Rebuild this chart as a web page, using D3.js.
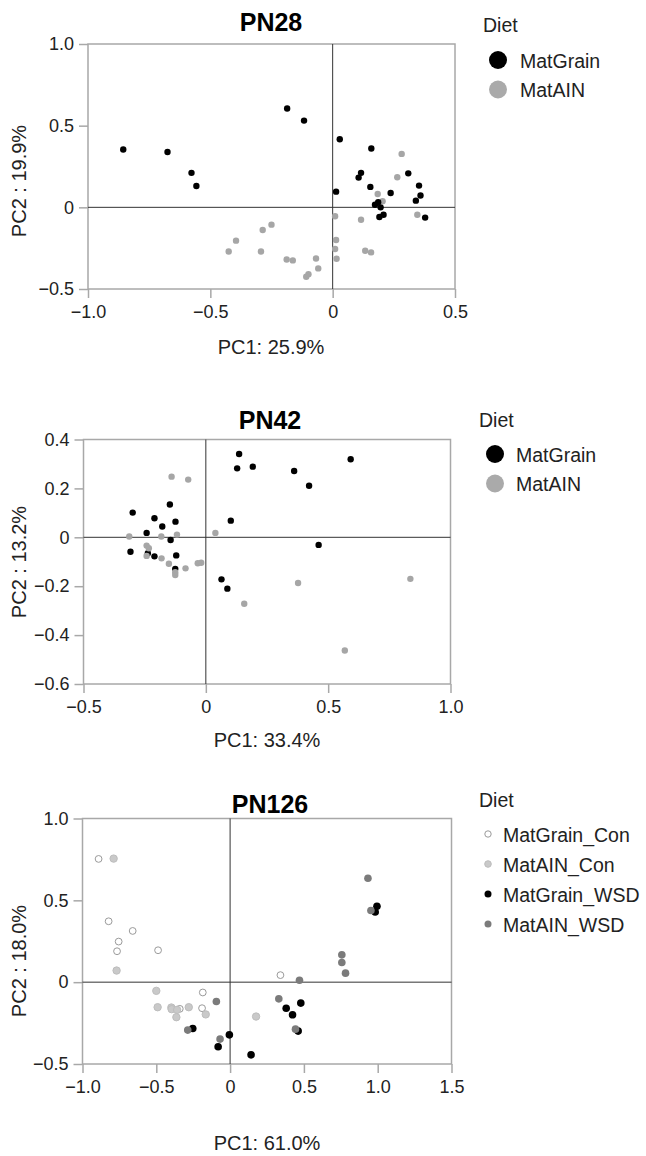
<!DOCTYPE html>
<html>
<head>
<meta charset="utf-8">
<script src="https://cdn.jsdelivr.net/npm/d3@7"></script>
<style>
  body { margin: 0; background: #fff; }
  svg { font-family: "Liberation Sans", Arial, sans-serif; }
</style>
</head>
<body>
<div id="graf"></div>
<script>
// PN28: puntos por dieta [PC1, PC2]
const pn28Grain = [[-0.856,0.354],[-0.675,0.339],[-0.577,0.211],[-0.557,0.131],[-0.186,0.605],[-0.117,0.531],
  [0.029,0.417],[0.014,0.096],[0.158,0.360],[0.116,0.211],[0.106,0.182],[0.154,0.125],[0.237,0.088],[0.309,0.208],
  [0.353,0.133],[0.359,0.072],[0.340,0.041],[0.378,-0.063],[0.173,0.016],[0.186,0.031],[0.196,0.0],[0.191,-0.059],[0.208,-0.045]]
const pn28AIN = [[0.282,0.327],[0.264,0.184],[0.184,0.082],[0.204,0.037],[0.346,-0.045],[0.010,-0.055],[0.116,-0.076],
  [-0.250,-0.106],[-0.286,-0.139],[-0.395,-0.204],[-0.425,-0.270],[-0.293,-0.270],[0.014,-0.200],[0.010,-0.255],[0.016,-0.315],
  [0.133,-0.266],[0.157,-0.276],[-0.188,-0.319],[-0.163,-0.325],[-0.068,-0.313],[-0.059,-0.374],[-0.099,-0.409],[-0.108,-0.425]]

// PN42
const pn42Grain = [[-0.299,0.101],[-0.308,-0.059],[-0.242,0.018],[-0.210,0.078],[-0.178,0.044],[-0.147,0.134],[-0.124,0.064],
  [-0.144,-0.011],[-0.210,-0.078],[-0.121,-0.074],[-0.125,-0.129],[-0.237,-0.065],[0.136,0.341],[0.128,0.282],[0.192,0.289],
  [0.361,0.271],[0.422,0.211],[0.592,0.319],[0.102,0.068],[0.461,-0.031],[0.064,-0.172],[0.088,-0.210]]
const pn42AIN = [[-0.140,0.248],[-0.072,0.236],[-0.313,0.003],[-0.182,0.003],[-0.118,0.011],[0.039,0.018],[-0.242,-0.034],
  [-0.233,-0.045],[-0.242,-0.076],[-0.181,-0.086],[-0.151,-0.108],[-0.125,-0.154],[-0.125,-0.143],[-0.083,-0.127],
  [-0.033,-0.106],[-0.019,-0.104],[0.377,-0.187],[0.836,-0.170],[0.157,-0.272],[0.568,-0.463]]

// PN126
const pn126GrainCon = [[-0.891,0.753],[-0.823,0.372],[-0.660,0.313],[-0.755,0.248],[-0.766,0.189],[-0.488,0.195],
  [-0.185,-0.063],[-0.190,-0.159],[-0.341,-0.163],[0.341,0.043]]
const pn126AINCon = [[-0.789,0.755],[-0.769,0.071],[-0.500,-0.053],[-0.491,-0.153],[-0.398,-0.155],[-0.396,-0.165],
  [-0.359,-0.169],[-0.364,-0.214],[-0.280,-0.153],[-0.165,-0.197],[0.176,-0.210]]
const pn126GrainWSD = [[0.995,0.464],[0.983,0.429],[0.479,-0.128],[0.380,-0.159],[0.423,-0.199],[0.461,-0.299],
  [-0.253,-0.283],[-0.081,-0.395],[-0.005,-0.322],[0.142,-0.444]]
const pn126AINWSD = [[0.934,0.635],[0.954,0.438],[0.757,0.167],[0.757,0.120],[0.782,0.055],[0.470,0.012],[0.330,-0.102],
  [0.443,-0.287],[-0.093,-0.118],[-0.287,-0.293],[-0.068,-0.348]]

// ticks de cada panel
const ticks28x = [-1.0, -0.5, 0, 0.5]
const ticks28y = [-0.5, 0, 0.5, 1.0]
const ticks42x = [-0.5, 0, 0.5, 1.0]
const ticks42y = [-0.6, -0.4, -0.2, 0, 0.2, 0.4]
const ticks126x = [-1.0, -0.5, 0, 0.5, 1.0, 1.5]
const ticks126y = [-0.5, 0, 0.5, 1.0]

const svg = d3.select("#graf")
  .append("svg")
  .attr("width", 646)
  .attr("height", 1156)

const fmt = (d) => d === 0 ? "0" : d3.format(".1f")(d)

// estilo comun de los ejes
function estiloEje(g) {
  g.select(".domain").remove()
  g.selectAll(".tick line").attr("stroke", "#a8a8a8").attr("stroke-width", 1.5)
  g.selectAll(".tick text")
    .attr("fill", "#222")
    .style("font-size", "18px")
    .style("font-family", "'Liberation Sans', Arial, sans-serif")
}

// dibuja un panel completo
function drawPanel(p) {
  const x = d3.scaleLinear().domain(p.xDom).range([p.left, p.right])
  const y = d3.scaleLinear().domain(p.yDom).range([p.bottom, p.top])

  svg.append("g")
    .attr("transform", `translate(${p.left}, 0)`)
    .call(d3.axisLeft(y).tickValues(p.yTicks).tickFormat(fmt).tickSize(9).tickPadding(5))
    .call(estiloEje)

  svg.append("g")
    .attr("transform", `translate(0, ${p.bottom})`)
    .call(d3.axisBottom(x).tickValues(p.xTicks).tickFormat(fmt).tickSize(9).tickPadding(7))
    .call(estiloEje)

  // marco
  svg.append("rect")
    .attr("x", p.left).attr("y", p.top)
    .attr("width", p.right - p.left).attr("height", p.bottom - p.top)
    .attr("fill", "none").attr("stroke", "#a8a8a8").attr("stroke-width", 1.5)

  // lineas en cero
  svg.append("line")
    .attr("x1", x(0)).attr("x2", x(0)).attr("y1", p.top).attr("y2", p.bottom)
    .attr("stroke", "#333").attr("stroke-width", 1)
  svg.append("line")
    .attr("x1", p.left).attr("x2", p.right).attr("y1", y(0)).attr("y2", y(0))
    .attr("stroke", "#333").attr("stroke-width", 1)

  p.series.forEach(s => {
    svg.append("g")
      .selectAll("circle")
      .data(s.data)
      .enter()
      .append("circle")
      .attr("cx", d => x(d[0]))
      .attr("cy", d => y(d[1]))
      .attr("r", s.r)
      .attr("fill", s.fill)
      .attr("stroke", s.stroke || "none")
      .attr("stroke-width", 1)
  })

  // titulos
  svg.append("text")
    .attr("x", p.titleX).attr("y", p.titleY)
    .attr("text-anchor", "middle")
    .style("font-size", "25px").style("font-weight", "bold")
    .text(p.title)

  svg.append("text")
    .attr("x", p.xLabX).attr("y", p.xLabY)
    .attr("text-anchor", "middle")
    .style("font-size", "20px").attr("fill", "#222")
    .text(p.xLab)

  svg.append("text")
    .attr("transform", `translate(26, ${p.yLabY}) rotate(-90)`)
    .attr("text-anchor", "middle")
    .style("font-size", "20px").attr("fill", "#222")
    .text(p.yLab)

  // leyenda
  svg.append("text")
    .attr("x", p.legX).attr("y", p.legY)
    .style("font-size", "19.5px").attr("fill", "#222")
    .text("Diet")

  p.legend.forEach((l, i) => {
    const cy = p.legY0 + i * p.legStep
    svg.append("circle")
      .attr("cx", p.legMX).attr("cy", cy).attr("r", l.r)
      .attr("fill", l.fill).attr("stroke", l.stroke || "none").attr("stroke-width", 1)
    svg.append("text")
      .attr("x", p.legTX).attr("y", cy + 7.5)
      .style("font-size", "19.5px").attr("fill", "#222")
      .text(l.label)
  })
}

const negro = "#000"
const gris = "#a6a6a6"

drawPanel({
  left: 88, right: 455, top: 44, bottom: 289,
  xDom: [-1, 0.5], yDom: [-0.5, 1], xTicks: ticks28x, yTicks: ticks28y,
  series: [
    { data: pn28AIN, fill: gris, r: 3.2 },
    { data: pn28Grain, fill: negro, r: 3.2 }
  ],
  title: "PN28", titleX: 271, titleY: 31,
  xLab: "PC1: 25.9%", xLabX: 271, xLabY: 354,
  yLab: "PC2 : 19.9%", yLabY: 181,
  legX: 483, legY: 32, legMX: 498, legTX: 520, legY0: 60, legStep: 29.5,
  legend: [
    { label: "MatGrain", fill: negro, r: 9 },
    { label: "MatAIN", fill: "#aaa", r: 9 }
  ]
})

drawPanel({
  left: 83.5, right: 450.5, top: 439.5, bottom: 684,
  xDom: [-0.5, 1], yDom: [-0.6, 0.4], xTicks: ticks42x, yTicks: ticks42y,
  series: [
    { data: pn42Grain, fill: negro, r: 3.2 },
    { data: pn42AIN, fill: gris, r: 3.2 }
  ],
  title: "PN42", titleX: 270, titleY: 429,
  xLab: "PC1: 33.4%", xLabX: 267, xLabY: 747,
  yLab: "PC2 : 13.2%", yLabY: 562,
  legX: 479, legY: 427, legMX: 495, legTX: 516, legY0: 454, legStep: 29.5,
  legend: [
    { label: "MatGrain", fill: negro, r: 9 },
    { label: "MatAIN", fill: "#aaa", r: 9 }
  ]
})

drawPanel({
  left: 82.5, right: 451.5, top: 818.5, bottom: 1064,
  xDom: [-1, 1.5], yDom: [-0.5, 1], xTicks: ticks126x, yTicks: ticks126y,
  series: [
    { data: pn126GrainCon, fill: "#fff", stroke: "#9a9a9a", r: 3.4 },
    { data: pn126AINCon, fill: "#c9c9c9", stroke: "#bdbdbd", r: 3.7 },
    { data: pn126GrainWSD, fill: negro, r: 3.8 },
    { data: pn126AINWSD, fill: "#7b7b7b", r: 3.8 }
  ],
  title: "PN126", titleX: 270, titleY: 813,
  xLab: "PC1: 61.0%", xLabX: 267, xLabY: 1150,
  yLab: "PC2 : 18.0%", yLabY: 961,
  legX: 479, legY: 807, legMX: 488, legTX: 503, legY0: 834, legStep: 30,
  legend: [
    { label: "MatGrain_Con", fill: "#fff", stroke: "#9a9a9a", r: 3.2 },
    { label: "MatAIN_Con", fill: "#c9c9c9", stroke: "#bdbdbd", r: 3.3 },
    { label: "MatGrain_WSD", fill: negro, r: 3.5 },
    { label: "MatAIN_WSD", fill: "#7b7b7b", r: 3.5 }
  ]
})
</script>
</body>
</html>
